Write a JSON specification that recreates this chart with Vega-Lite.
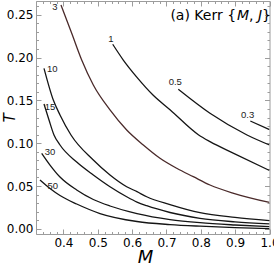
{
  "$schema": "https://vega.github.io/schema/vega-lite/v6.json",
  "width": 233.5,
  "height": 233,
  "autosize": {"type": "none"},
  "padding": {"left": 36, "top": 1, "right": 4.5, "bottom": 36},
  "config": {"view": {"stroke": "#9c9c9c", "strokeWidth": 1}},
  "datasets": {
    "curves": [
      {"c": "3", "M": 0.3928, "T": 0.2613}, {"c": "3", "M": 0.4240, "T": 0.2283}, {"c": "3", "M": 0.4531, "T": 0.1971},
      {"c": "3", "M": 0.4869, "T": 0.1679}, {"c": "3", "M": 0.5355, "T": 0.1388}, {"c": "3", "M": 0.5841, "T": 0.1154},
      {"c": "3", "M": 0.6325, "T": 0.0979}, {"c": "3", "M": 0.6811, "T": 0.0824}, {"c": "3", "M": 0.7298, "T": 0.0707},
      {"c": "3", "M": 0.7781, "T": 0.0609}, {"c": "3", "M": 0.8267, "T": 0.0512}, {"c": "3", "M": 0.8957, "T": 0.0415},
      {"c": "3", "M": 1.0, "T": 0.0308},
      {"c": "1", "M": 0.5434, "T": 0.2155}, {"c": "1", "M": 0.5742, "T": 0.1971}, {"c": "1", "M": 0.6141, "T": 0.1769},
      {"c": "1", "M": 0.6607, "T": 0.1563}, {"c": "1", "M": 0.7111, "T": 0.1388}, {"c": "1", "M": 0.7938, "T": 0.1096},
      {"c": "1", "M": 0.8267, "T": 0.1018}, {"c": "1", "M": 0.8957, "T": 0.0882}, {"c": "1", "M": 1.0, "T": 0.0681},
      {"c": "0.5", "M": 0.7344, "T": 0.1629}, {"c": "0.5", "M": 0.8267, "T": 0.1349}, {"c": "0.5", "M": 0.9345, "T": 0.1096},
      {"c": "0.5", "M": 1.0, "T": 0.0979},
      {"c": "0.3", "M": 0.9441, "T": 0.1259}, {"c": "0.3", "M": 1.0, "T": 0.1158},
      {"c": "10", "M": 0.3433, "T": 0.1874}, {"c": "10", "M": 0.3704, "T": 0.1504}, {"c": "10", "M": 0.3899, "T": 0.1330},
      {"c": "10", "M": 0.4219, "T": 0.1096}, {"c": "10", "M": 0.4869, "T": 0.0804}, {"c": "10", "M": 0.5355, "T": 0.0629},
      {"c": "10", "M": 0.5841, "T": 0.0492}, {"c": "10", "M": 0.6141, "T": 0.0434}, {"c": "10", "M": 0.6424, "T": 0.0375},
      {"c": "10", "M": 0.7102, "T": 0.0284}, {"c": "10", "M": 0.7976, "T": 0.0189}, {"c": "10", "M": 0.8995, "T": 0.0133},
      {"c": "10", "M": 1.0, "T": 0.0095},
      {"c": "15", "M": 0.3433, "T": 0.1458}, {"c": "15", "M": 0.3579, "T": 0.1271}, {"c": "15", "M": 0.3724, "T": 0.1096},
      {"c": "15", "M": 0.3899, "T": 0.0979}, {"c": "15", "M": 0.4385, "T": 0.0780}, {"c": "15", "M": 0.4869, "T": 0.0629},
      {"c": "15", "M": 0.5355, "T": 0.0492}, {"c": "15", "M": 0.5841, "T": 0.0375}, {"c": "15", "M": 0.6141, "T": 0.0313},
      {"c": "15", "M": 0.6424, "T": 0.0270}, {"c": "15", "M": 0.7102, "T": 0.0191}, {"c": "15", "M": 0.7976, "T": 0.0123},
      {"c": "15", "M": 0.8995, "T": 0.0082}, {"c": "15", "M": 1.0, "T": 0.0057},
      {"c": "30", "M": 0.3366, "T": 0.0882}, {"c": "30", "M": 0.3608, "T": 0.0745}, {"c": "30", "M": 0.3899, "T": 0.0605},
      {"c": "30", "M": 0.4385, "T": 0.0454}, {"c": "30", "M": 0.4869, "T": 0.0343}, {"c": "30", "M": 0.5355, "T": 0.0267},
      {"c": "30", "M": 0.6141, "T": 0.0179}, {"c": "30", "M": 0.7102, "T": 0.0109}, {"c": "30", "M": 0.7976, "T": 0.0072},
      {"c": "30", "M": 0.8995, "T": 0.0045}, {"c": "30", "M": 1.0, "T": 0.0025},
      {"c": "50", "M": 0.3316, "T": 0.0570}, {"c": "50", "M": 0.3608, "T": 0.0471}, {"c": "50", "M": 0.3899, "T": 0.0389},
      {"c": "50", "M": 0.4385, "T": 0.0290}, {"c": "50", "M": 0.5064, "T": 0.0179}, {"c": "50", "M": 0.6141, "T": 0.0086},
      {"c": "50", "M": 0.7102, "T": 0.0050}, {"c": "50", "M": 0.7976, "T": 0.0031}, {"c": "50", "M": 0.8995, "T": 0.0015},
      {"c": "50", "M": 1.0, "T": 0.0003}
    ],
    "labels": [
      {"label": "3", "M": 0.3753, "T": 0.2586},
      {"label": "1", "M": 0.5384, "T": 0.2213},
      {"label": "10", "M": 0.3675, "T": 0.1866},
      {"label": "15", "M": 0.3608, "T": 0.1426},
      {"label": "30", "M": 0.3608, "T": 0.0894},
      {"label": "50", "M": 0.3686, "T": 0.0504},
      {"label": "0.5", "M": 0.7257, "T": 0.1718},
      {"label": "0.3", "M": 0.9365, "T": 0.1329}
    ]
  },
  "layer": [
    {
      "data": {"name": "curves"},
      "mark": {"type": "line", "interpolate": "monotone", "strokeWidth": 1.3, "clip": true},
      "encoding": {
        "x": {
          "field": "M", "type": "quantitative",
          "scale": {"domain": [0.32, 1.0], "nice": false, "zero": false},
          "axis": {
            "orient": "bottom",
            "values": [0.32,0.34,0.36,0.38,0.4,0.42,0.44,0.46,0.48,0.5,0.52,0.54,0.56,0.58,0.6,0.62,0.64,0.66,0.68,0.7,0.72,0.74,0.76,0.78,0.8,0.82,0.84,0.86,0.88,0.9,0.92,0.94,0.96,0.98,1.0],
            "domain": false, "grid": false,
            "tickColor": "#9c9c9c", "tickWidth": 1,
            "tickSize": {"condition": {"test": "abs(datum.value*10 - round(datum.value*10)) < 0.001", "value": -5}, "value": -2.5},
            "labelExpr": "abs(datum.value*10 - round(datum.value*10)) < 0.001 ? format(datum.value, '.1f') : ''",
            "labelFont": "DejaVu Sans", "labelFontSize": 12, "labelColor": "#000000",
            "labelPadding": 8, "labelOverlap": false, "labelFlush": false, "labelBound": false,
            "title": "M", "titleFont": "DejaVu Sans", "titleFontStyle": "italic", "titleFontWeight": "normal",
            "titleFontSize": 18, "titleColor": "#000000", "titleX": 109, "titleY": 23,
            "titleBaseline": "middle", "titleAlign": "center"
          }
        },
        "y": {
          "field": "T", "type": "quantitative",
          "scale": {"domain": [-0.006, 0.266], "nice": false, "zero": false},
          "axis": {
            "orient": "left",
            "values": [0,0.01,0.02,0.03,0.04,0.05,0.06,0.07,0.08,0.09,0.1,0.11,0.12,0.13,0.14,0.15,0.16,0.17,0.18,0.19,0.2,0.21,0.22,0.23,0.24,0.25,0.26],
            "domain": false, "grid": false,
            "tickColor": "#9c9c9c", "tickWidth": 1,
            "tickSize": {"condition": {"test": "abs(datum.value*20 - round(datum.value*20)) < 0.001", "value": -5}, "value": -2.5},
            "labelExpr": "abs(datum.value*20 - round(datum.value*20)) < 0.001 ? format(datum.value, '.2f') : ''",
            "labelFont": "DejaVu Sans", "labelFontSize": 12, "labelColor": "#000000",
            "labelPadding": 8, "labelOverlap": false, "labelFlush": false, "labelBound": false,
            "title": "T", "titleFont": "DejaVu Sans", "titleFontStyle": "italic", "titleFontWeight": "normal",
            "titleFontSize": 15, "titleColor": "#000000", "titleX": -26.5, "titleY": 116.5,
            "titleBaseline": "middle", "titleAlign": "center", "titleAngle": 270
          }
        },
        "detail": {"field": "c"},
        "color": {
          "field": "c", "type": "nominal", "legend": null,
          "scale": {"domain": ["3", "1", "0.5", "0.3", "10", "15", "30", "50"],
                    "range": ["#4a2a2a", "#151515", "#151515", "#151515", "#151515", "#151515", "#151515", "#151515"]}
        }
      }
    },
    {
      "data": {"name": "curves"},
      "mark": {"type": "point", "opacity": 0},
      "encoding": {
        "x": {
          "field": "M", "type": "quantitative",
          "axis": {
            "orient": "top",
            "values": [0.32,0.34,0.36,0.38,0.4,0.42,0.44,0.46,0.48,0.5,0.52,0.54,0.56,0.58,0.6,0.62,0.64,0.66,0.68,0.7,0.72,0.74,0.76,0.78,0.8,0.82,0.84,0.86,0.88,0.9,0.92,0.94,0.96,0.98,1.0],
            "domain": false, "grid": false, "labels": false, "title": null,
            "tickColor": "#9c9c9c", "tickWidth": 1,
            "tickSize": {"condition": {"test": "abs(datum.value*10 - round(datum.value*10)) < 0.001", "value": -5}, "value": -2.5}
          }
        },
        "y": {
          "field": "T", "type": "quantitative",
          "axis": {
            "orient": "right",
            "values": [0,0.01,0.02,0.03,0.04,0.05,0.06,0.07,0.08,0.09,0.1,0.11,0.12,0.13,0.14,0.15,0.16,0.17,0.18,0.19,0.2,0.21,0.22,0.23,0.24,0.25,0.26],
            "domain": false, "grid": false, "labels": false, "title": null,
            "tickColor": "#9c9c9c", "tickWidth": 1,
            "tickSize": {"condition": {"test": "abs(datum.value*20 - round(datum.value*20)) < 0.001", "value": -5}, "value": -2.5}
          }
        }
      }
    },
    {
      "data": {"name": "labels"},
      "mark": {"type": "text", "font": "Liberation Sans", "fontSize": 9.5, "color": "#222222", "align": "center", "baseline": "middle"},
      "encoding": {
        "x": {"field": "M", "type": "quantitative", "axis": null},
        "y": {"field": "T", "type": "quantitative", "axis": null},
        "text": {"field": "label"}
      }
    },
    {
      "data": {"values": [{"piece": "(a) Kerr {"}]},
      "mark": {"type": "text", "font": "DejaVu Sans", "fontSize": 14, "color": "#000000", "align": "left", "baseline": "alphabetic", "dx": -99.1},
      "encoding": {
        "x": {"datum": 1.0, "type": "quantitative", "axis": null},
        "y": {"datum": 0.2444, "type": "quantitative", "axis": null},
        "text": {"field": "piece"}
      }
    },
    {
      "data": {"values": [{"piece": "M"}]},
      "mark": {"type": "text", "font": "DejaVu Sans", "fontStyle": "italic", "fontSize": 14, "color": "#000000", "align": "left", "baseline": "alphabetic", "dx": -32.5},
      "encoding": {
        "x": {"datum": 1.0, "type": "quantitative", "axis": null},
        "y": {"datum": 0.2444, "type": "quantitative", "axis": null},
        "text": {"field": "piece"}
      }
    },
    {
      "data": {"values": [{"piece": ","}]},
      "mark": {"type": "text", "font": "DejaVu Sans", "fontSize": 14, "color": "#000000", "align": "left", "baseline": "alphabetic", "dx": -20.4},
      "encoding": {
        "x": {"datum": 1.0, "type": "quantitative", "axis": null},
        "y": {"datum": 0.2444, "type": "quantitative", "axis": null},
        "text": {"field": "piece"}
      }
    },
    {
      "data": {"values": [{"piece": "J"}]},
      "mark": {"type": "text", "font": "DejaVu Sans", "fontStyle": "italic", "fontSize": 14, "color": "#000000", "align": "left", "baseline": "alphabetic", "dx": -11.5},
      "encoding": {
        "x": {"datum": 1.0, "type": "quantitative", "axis": null},
        "y": {"datum": 0.2444, "type": "quantitative", "axis": null},
        "text": {"field": "piece"}
      }
    },
    {
      "data": {"values": [{"piece": "}"}]},
      "mark": {"type": "text", "font": "DejaVu Sans", "fontSize": 14, "color": "#000000", "align": "left", "baseline": "alphabetic", "dx": -7.4},
      "encoding": {
        "x": {"datum": 1.0, "type": "quantitative", "axis": null},
        "y": {"datum": 0.2444, "type": "quantitative", "axis": null},
        "text": {"field": "piece"}
      }
    }
  ],
  "resolve": {"axis": {"x": "independent", "y": "independent"}}
}
